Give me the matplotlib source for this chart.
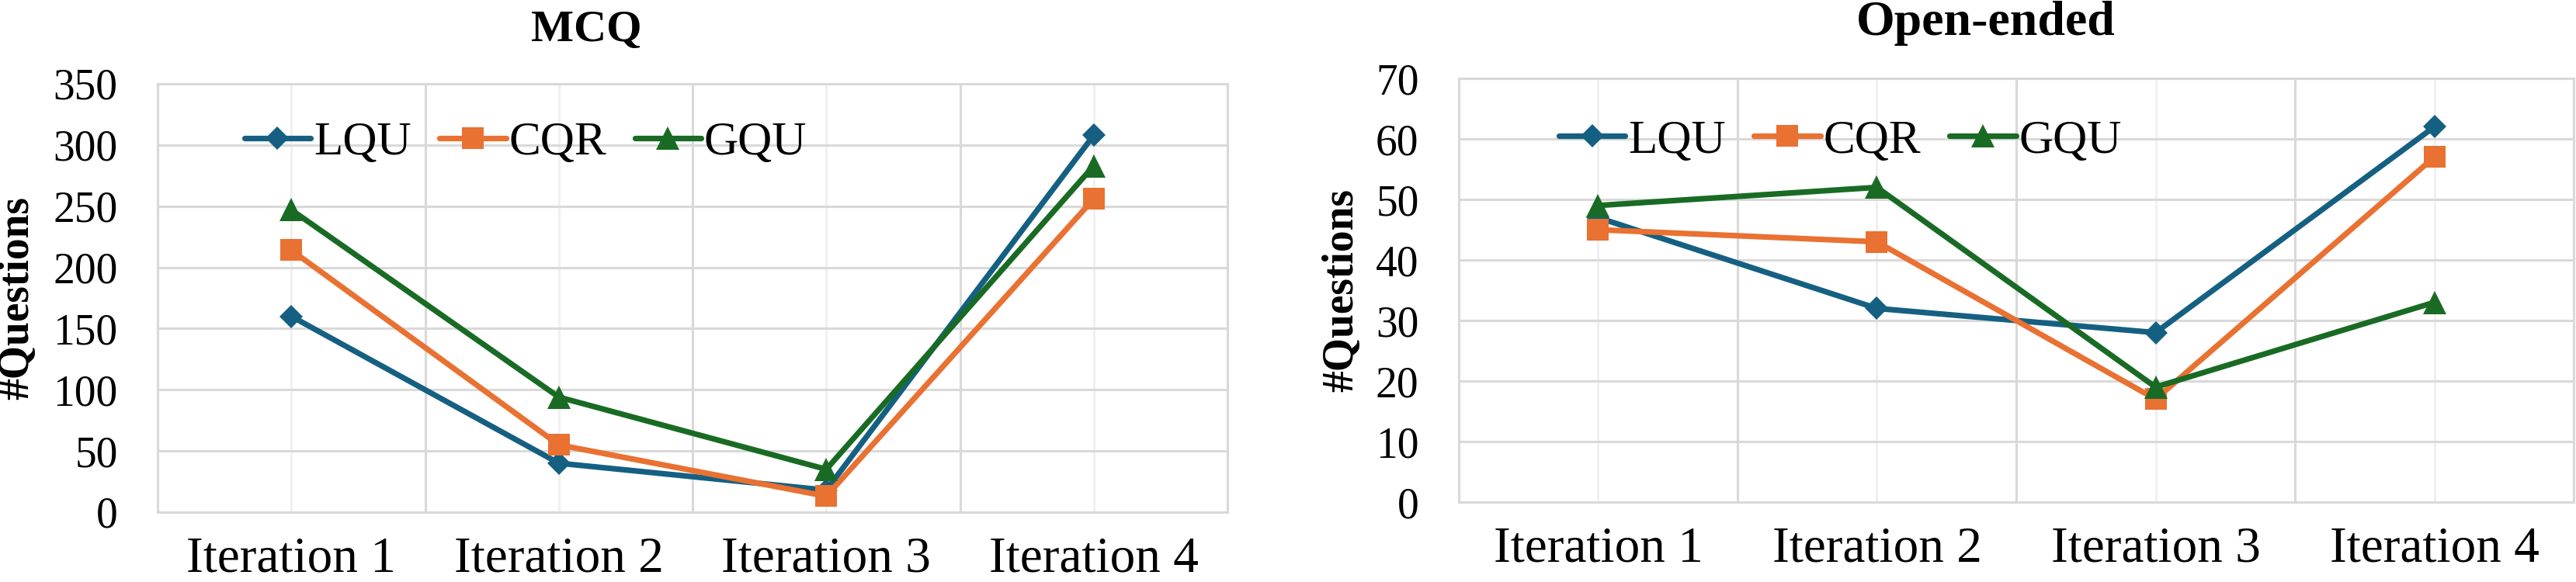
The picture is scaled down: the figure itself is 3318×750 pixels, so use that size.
import matplotlib.pyplot as plt
from matplotlib.ticker import MultipleLocator, FixedLocator

plt.rcParams['font.family'] = ['Liberation Serif', 'DejaVu Serif']

iterations = ["Iteration 1", "Iteration 2", "Iteration 3", "Iteration 4"]
series = ["LQU", "CQR", "GQU"]

mcq_lqu = [160, 40, 18, 308]
mcq_cqr = [214, 55, 13, 256]
mcq_gqu = [247, 94, 35, 283]

open_lqu = [47, 32, 28, 62]
open_cqr = [45, 43, 17, 57]
open_gqu = [49, 52, 19, 33]

colors = ['#156082', '#E97132', '#196B24']
markers = ['D', 's', '^']
msizes = [15, 20, 21]

fig = plt.figure(figsize=(33.18, 7.5), dpi=100)
ax1 = fig.add_axes([0.0612, 0.12, 0.4153, 0.736])
ax2 = fig.add_axes([0.5663, 0.1373, 0.4328, 0.728])


def draw(ax, data, ymax, ystep, leg_anchor, ylab_x):
  x = [i + 0.5 for i in range(len(iterations))]
  for vals, name, c, m, ms in zip(data, series, colors, markers, msizes):
    ax.plot(x, vals, color=c, lw=5.2, marker=m, markersize=ms,
            markeredgewidth=0, label=name, solid_capstyle='round', zorder=3)
  ax.set_xlim(0, len(iterations))
  ax.set_ylim(0, ymax)
  ax.xaxis.set_major_locator(FixedLocator(x))
  ax.xaxis.set_minor_locator(FixedLocator(range(len(iterations) + 1)))
  ax.set_xticklabels(iterations)
  ax.yaxis.set_major_locator(MultipleLocator(ystep))
  ax.grid(axis='y', color='#d9d9d9', lw=2.2)
  ax.grid(axis='x', which='minor', color='#d9d9d9', lw=2.2)
  ax.grid(axis='x', which='major', color='#f0f0f0', lw=2.2)
  ax.set_axisbelow(True)
  for s in ax.spines.values():
    s.set_color('#d9d9d9')
    s.set_linewidth(2.2)
  ax.tick_params(axis='x', which='both', length=0, pad=22, labelsize=47)
  ax.tick_params(axis='y', length=0, pad=37, labelsize=40)
  ax.set_ylabel("#Questions", fontsize=40, fontweight='bold')
  ax.yaxis.set_label_coords(ylab_x, 0.5)
  ax.legend(loc='center left', bbox_to_anchor=leg_anchor, ncol=3, frameon=False,
            fontsize=44, borderpad=0, borderaxespad=0, handlelength=1.4,
            handletextpad=0.06, columnspacing=0.6)


draw(ax1, [mcq_lqu, mcq_cqr, mcq_gqu], 350, 50, (0.081, 0.862), -0.1125)
draw(ax2, [open_lqu, open_cqr, open_gqu], 70, 10, (0.0898, 0.852), -0.087)

fig.text(0.2275, 0.929, "MCQ", fontsize=42, fontweight='bold', ha='center', va='baseline')
fig.text(0.771, 0.94, "Open-ended", fontsize=46, fontweight='bold', ha='center', va='baseline')

plt.savefig("out.png", dpi=100)
